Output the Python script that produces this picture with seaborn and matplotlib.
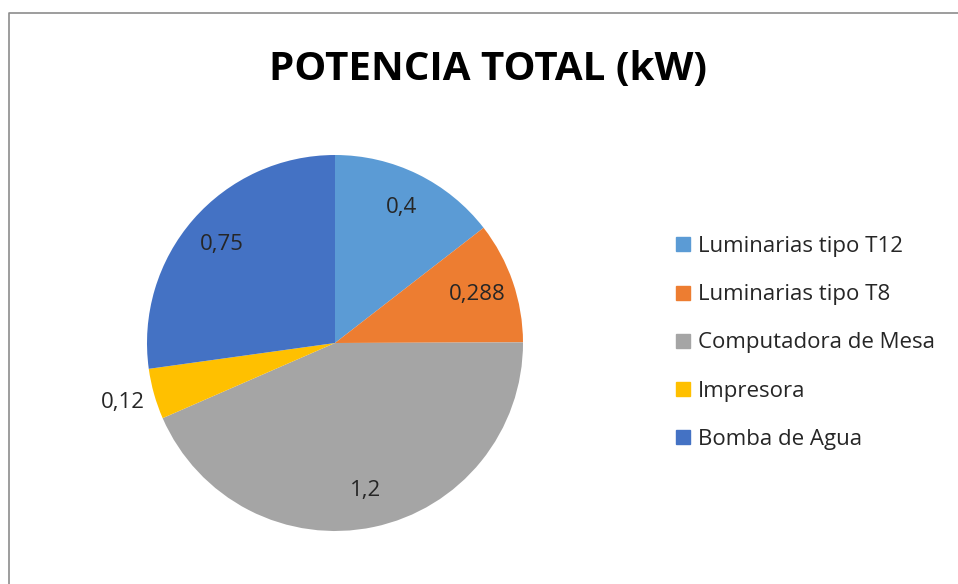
import numpy as np
import matplotlib
matplotlib.use('Agg')
import matplotlib.pyplot as plt
import seaborn as sns
from matplotlib.lines import Line2D

# Datos del gráfico
categorias = ['Luminarias tipo T12', 'Luminarias tipo T8', 'Computadora de Mesa',
              'Impresora', 'Bomba de Agua']
potencia = [0.4, 0.288, 1.2, 0.12, 0.75]
etiquetas = ['0,4', '0,288', '1,2', '0,12', '0,75']
colores = ['#5B9BD5', '#ED7D31', '#A5A5A5', '#FFC000', '#4472C4']

sns.set_style('white')
plt.rcParams['font.family'] = ['Open Sans', 'DejaVu Sans']

fig = plt.figure(figsize=(9.58, 5.84), dpi=100)

# Borde del área del gráfico (solo izquierda y arriba quedan visibles)
bx, by = 9 / 958, 1 - 13 / 584
fig.add_artist(Line2D([bx, bx, 1.0], [0, by, by], transform=fig.transFigure,
                      color='#8c8c8c', linewidth=1.2))

cx, cy, r = 335, 343, 188
ax = fig.add_axes([(cx - r) / 958, (584 - cy - r) / 584, 2 * r / 958, 2 * r / 584])
wedges, _ = ax.pie(potencia, colors=colores, startangle=90, counterclock=False,
                   radius=1, wedgeprops=dict(linewidth=0))
ax.set_xlim(-1, 1)
ax.set_ylim(-1, 1)
ax.set_aspect('equal')
ax.axis('off')

# Etiquetas de datos
for w, lab in zip(wedges, etiquetas):
    ang = np.deg2rad((w.theta1 + w.theta2) / 2)
    dist = 1.17 if lab == '0,12' else 0.8
    ax.text(dist * np.cos(ang), dist * np.sin(ang), lab, ha='center', va='center',
            fontsize=16, color='#262626', clip_on=False)

fig.text(488 / 958, 1 - 70 / 584, 'POTENCIA TOTAL (kW)', ha='center', va='center',
         fontsize=29, fontweight='bold', color='black')

handles = [Line2D([0], [0], marker='s', linestyle='', markersize=10,
                  markerfacecolor=c, markeredgecolor=c) for c in colores]
fig.legend(handles, categorias, loc='center left', bbox_to_anchor=(652 / 958, 1 - 343 / 584),
           frameon=False, fontsize=16, handletextpad=0.15, labelspacing=1.22,
           handlelength=1.0, labelcolor='#262626')

fig.savefig('out.png', dpi=100)
